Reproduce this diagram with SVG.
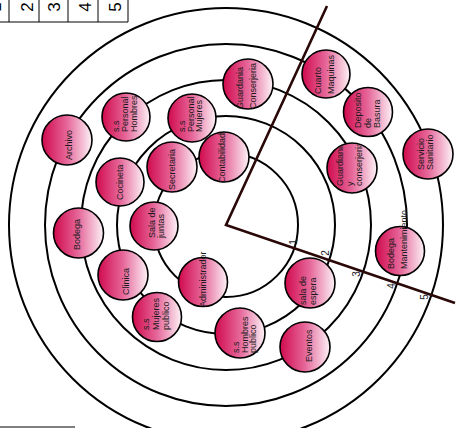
<svg xmlns="http://www.w3.org/2000/svg" width="461" height="428" viewBox="0 0 461 428">
<defs>
<linearGradient id="pink" x1="0" y1="0" x2="1" y2="0">
<stop offset="0" stop-color="#d00a4d"/>
<stop offset="0.5" stop-color="#e6679a"/>
<stop offset="1" stop-color="#fcf2f6"/>
</linearGradient>
<clipPath id="clipGc"><circle cx="352" cy="168" r="24"/></clipPath>
</defs>
<style>
.ring{fill:none;stroke:#000;stroke-width:2}
.bracket{fill:none;stroke:#2a0808;stroke-width:2.6}
.node{fill:url(#pink);stroke:#000;stroke-width:1.6}
.lbl{font-family:"Liberation Sans",Arial,sans-serif;font-size:9px;fill:#1a1a1a}
.num{font-family:"Liberation Sans",Arial,sans-serif;font-size:10px;fill:#1a1a1a;text-anchor:middle}
.tab{fill:none;stroke:#000;stroke-width:1}
.tnum{font-family:"Liberation Sans",Arial,sans-serif;font-size:17px;fill:#000;text-anchor:middle}
</style>
<rect width="461" height="428" fill="#fff"/>
<g id="table">
<path class="tab" d="M0 22H128M9 0V22M39 0V22M68 0V22M98 0V22M128 0V22"/>
<text class="tnum" transform="translate(1,7) rotate(-90)">1</text>
<text class="tnum" transform="translate(33,7) rotate(-90)">2</text>
<text class="tnum" transform="translate(60,7) rotate(-90)">3</text>
<text class="tnum" transform="translate(91,7) rotate(-90)">4</text>
<text class="tnum" transform="translate(121,7) rotate(-90)">5</text>
</g>
<path class="tab" d="M0 427H75"/>
<g id="connectors">
<circle class="ring" cx="226" cy="225" r="72"/>
<circle class="ring" cx="226" cy="225" r="109"/>
<circle class="ring" cx="226" cy="225" r="145"/>
<circle class="ring" cx="226" cy="225" r="181"/>
<circle class="ring" cx="226" cy="225" r="217"/>
<polyline class="bracket" points="327,6 226,225 455,303"/>
<text class="num" transform="translate(296.5,242) rotate(-90)">1</text>
<text class="num" transform="translate(328.5,253) rotate(-90)">2</text>
<text class="num" transform="translate(359.5,274) rotate(-90)">3</text>
<text class="num" transform="translate(394.5,286) rotate(-90)">4</text>
<text class="num" transform="translate(427.5,297) rotate(-90)">5</text>
</g>
<g id="archivo"><circle class="node" cx="67" cy="140" r="25"/><text class="lbl" transform="translate(72.3,160) rotate(-90)">Archivo</text></g>
<g id="ss-personal-hombres"><circle class="node" cx="126" cy="117" r="24"/><text class="lbl" transform="translate(119.3,132) rotate(-90)"><tspan x="0">s.s</tspan><tspan x="0" dy="9">Personal</tspan><tspan x="0" dy="9">Hombres</tspan></text></g>
<g id="ss-personal-mujeres"><circle class="node" cx="192" cy="118" r="24"/><text class="lbl" transform="translate(185.3,132) rotate(-90)"><tspan x="0">s.s</tspan><tspan x="0" dy="8.5">Personal</tspan><tspan x="0" dy="8.5">Mujeres</tspan></text></g>
<g id="guardania-conserjeria"><circle class="node" cx="248" cy="84" r="25"/><text class="lbl" transform="translate(243.3,109) rotate(-90)"><tspan x="0">Guardania</tspan><tspan x="0" dy="13">Conserjeria</tspan></text></g>
<g id="contabilidad"><circle class="node" cx="224" cy="157" r="25"/><text class="lbl" transform="translate(225.3,183) rotate(-90)">Contabilidad</text></g>
<g id="secretaria"><circle class="node" cx="172" cy="167" r="25"/><text class="lbl" transform="translate(175.3,190) rotate(-90)">Secretaria</text></g>
<g id="cocineta"><circle class="node" cx="120" cy="182" r="24"/><text class="lbl" transform="translate(123.3,200) rotate(-90)">Cocineta</text></g>
<g id="sala-juntas"><circle class="node" cx="154" cy="226" r="24"/><text class="lbl" transform="translate(155.3,238) rotate(-90)"><tspan x="0">Sala de</tspan><tspan x="0" dy="9">juntas</tspan></text></g>
<g id="bodega"><circle class="node" cx="78.5" cy="233" r="25"/><text class="lbl" transform="translate(80.3,250) rotate(-90)">Bodega</text></g>
<g id="clinica"><circle class="node" cx="123" cy="275" r="25"/><text class="lbl" transform="translate(129.3,295) rotate(-90)">Clinica</text></g>
<g id="administrador"><circle class="node" cx="203" cy="282" r="24.5"/><text class="lbl" transform="translate(206.3,307) rotate(-90)">Administrador</text></g>
<g id="ss-mujeres-publico"><circle class="node" cx="157" cy="317" r="24.5"/><text class="lbl" transform="translate(149.3,330) rotate(-90)"><tspan x="0">s.s</tspan><tspan x="0" dy="10">Mujeres</tspan><tspan x="0" dy="10">publico</tspan></text></g>
<g id="ss-hombres-publico"><circle class="node" cx="240" cy="333" r="25"/><text class="lbl" transform="translate(239.3,353) rotate(-90)"><tspan x="0">s.s</tspan><tspan x="0" dy="8.5">Hombres</tspan><tspan x="0" dy="8.5">publico</tspan></text></g>
<g id="sala-espera"><circle class="node" cx="310" cy="283" r="25"/><text class="lbl" transform="translate(306.3,305) rotate(-90)"><tspan x="0">sala de</tspan><tspan x="0" dy="10">espera</tspan></text></g>
<g id="eventos"><circle class="node" cx="305" cy="347" r="25"/><text class="lbl" transform="translate(312.3,362) rotate(-90)">Eventos</text></g>
<g id="bodega-mantenimiento"><circle class="node" cx="400" cy="251" r="24.5"/><text class="lbl" transform="translate(394.3,269) rotate(-90)"><tspan x="0">Bodega</tspan><tspan x="0" dy="13">Mantenimiento</tspan></text></g>
<g id="guardiania-y-conserjeria"><circle class="node" cx="352" cy="168" r="25"/><g clip-path="url(#clipGc)"><text class="lbl" transform="translate(343.3,186) rotate(-90)"><tspan x="0">Guardiania</tspan><tspan x="0" dy="9.5">y</tspan><tspan x="0" dy="9.5">conserjeria</tspan></text></g></g>
<g id="servicio-sanitario"><circle class="node" cx="428" cy="154" r="25"/><text class="lbl" transform="translate(424.3,170) rotate(-90)"><tspan x="0">Servicio</tspan><tspan x="0" dy="9">Sanitario</tspan></text></g>
<g id="cuarto-maquinas"><circle class="node" cx="326" cy="74" r="24"/><text class="lbl" transform="translate(321.3,94) rotate(-90)"><tspan x="0">Cuarto</tspan><tspan x="0" dy="13">Maquinas</tspan></text></g>
<g id="deposito-basura"><circle class="node" cx="368" cy="112" r="24.5"/><text class="lbl" transform="translate(361.3,128) rotate(-90)"><tspan x="0">Deposito</tspan><tspan x="0" dy="9.5">de</tspan><tspan x="0" dy="9.5">Basura</tspan></text></g>
</svg>
